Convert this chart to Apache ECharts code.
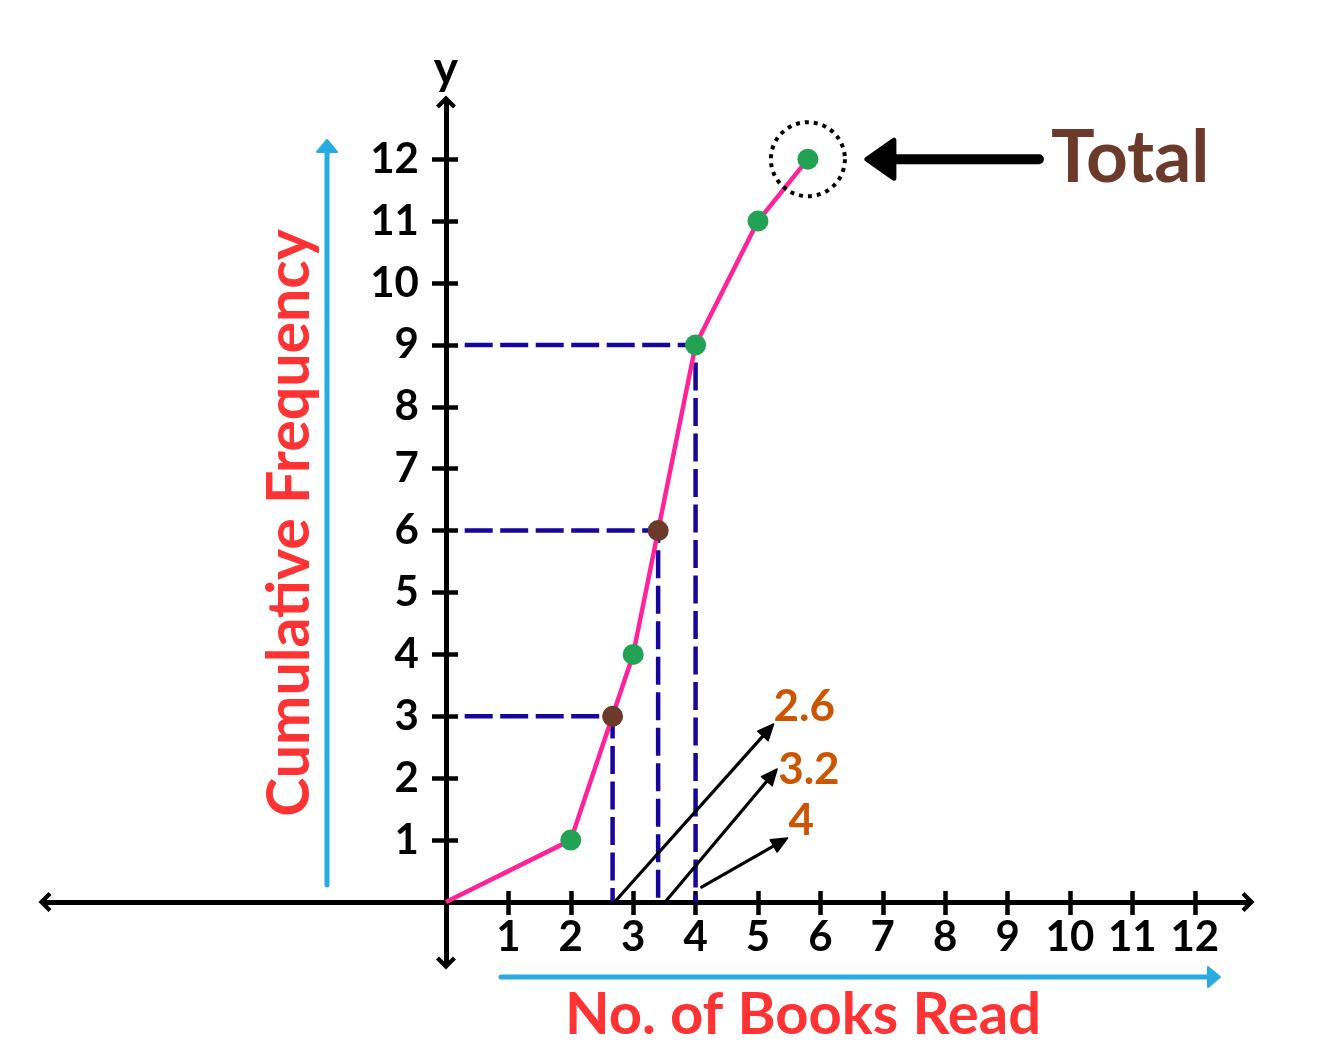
<!DOCTYPE html>
<html><head><meta charset="utf-8">
<script src="https://cdn.jsdelivr.net/npm/echarts@6/dist/echarts.min.js"></script>
<style>html,body{margin:0;padding:0;background:#fff}#c{width:1325px;height:1060px}</style>
</head><body><div id="c"></div>
<script>
// ---- data ----
const booksRead = [0, 2, 3, 4, 5, 5.8];
const cumFreq = [0, 1, 4, 9, 11, 12];
const readCF = [3, 6, 9];            // cumulative frequencies
const readX = [2.67, 3.4, 4];        // where those readings meet the curve
const readLabels = ['2.6', '3.2', '4'];
const xTicks = [1, 2, 3, 4, 5, 6, 7, 8, 9, 10, 11, 12];
const yTicks = [1, 2, 3, 4, 5, 6, 7, 8, 9, 10, 11, 12];
const totalPoint = [5.8, 12];
const xTitle = 'No. of Books Read';
const yTitle = 'Cumulative Frequency';
const totalText = 'Total';

// ---- layout / style ----
const G_LEFT = 45, G_TOP = 102, G_W = 1203, G_H = 861;
const X_MIN = -6.426, X_MAX = 12.853, Y_MIN = -0.985, Y_MAX = 12.924;
const X0 = G_LEFT + (0 - X_MIN) / (X_MAX - X_MIN) * G_W;       // pixel of x = 0
const Y0 = G_TOP + (Y_MAX - 0) / (Y_MAX - Y_MIN) * G_H;        // pixel of y = 0
const FONT = 'Lato, "Open Sans", sans-serif';
const BLACK = '#000000', PINK = '#ff2299', GREEN = '#22a254', BROWN = '#6b3a2a';
const NAVY = '#18059c', ORANGE = '#cc5500', RED = '#ff3333', BLUE = '#29abe2';
const chevron = 'path://M50,0 L100,50 L85,65 L50,30 L15,65 L0,50 Z';

const chart = echarts.init(document.getElementById('c'));

const guideSeries = readCF.map((cf, i) => ({
  type: 'line', silent: true, symbol: 'none', z: 2,
  data: [[0.3, cf], [readX[i], cf], [readX[i], 0]],
  lineStyle: { color: NAVY, width: 4.5, type: [28, 7.5], cap: 'butt' }
}));

const option = {
  animation: false,
  backgroundColor: '#ffffff',
  grid: { left: G_LEFT, top: G_TOP, width: G_W, height: G_H, containLabel: false, outerBoundsMode: 'none' },
  xAxis: [
    { type: 'value', min: X_MIN, max: X_MAX, position: 'bottom', offset: Y0 - (G_TOP + G_H),
      axisLine: { show: true, onZero: false, lineStyle: { color: BLACK, width: 5 },
        symbol: [chevron, chevron], symbolSize: [20, 14] },
      axisTick: { show: true, customValues: xTicks, length: 13, lineStyle: { color: BLACK, width: 4.5 } },
      axisLabel: { show: true, customValues: xTicks, margin: 14, color: BLACK,
        fontFamily: FONT, fontWeight: 'bold', fontSize: 42 },
      splitLine: { show: false } },
    { type: 'value', min: X_MIN, max: X_MAX, position: 'top', offset: G_TOP - Y0,
      axisLine: { show: false, onZero: false },
      axisTick: { show: true, customValues: xTicks, length: 11, lineStyle: { color: BLACK, width: 4.5 } },
      axisLabel: { show: false }, splitLine: { show: false } }
  ],
  yAxis: [
    { type: 'value', min: Y_MIN, max: Y_MAX, position: 'left', offset: G_LEFT - X0,
      name: 'y', nameLocation: 'end', nameGap: 10,
      nameTextStyle: { color: BLACK, fontFamily: FONT, fontWeight: 'bold', fontSize: 46 },
      axisLine: { show: true, onZero: false, lineStyle: { color: BLACK, width: 5 },
        symbol: [chevron, chevron], symbolSize: [20, 14] },
      axisTick: { show: true, customValues: yTicks, length: 14, lineStyle: { color: BLACK, width: 4.5 } },
      axisLabel: { show: true, customValues: yTicks, margin: 27, color: BLACK,
        fontFamily: FONT, fontWeight: 'bold', fontSize: 42 },
      splitLine: { show: false } },
    { type: 'value', min: Y_MIN, max: Y_MAX, position: 'right', offset: X0 - (G_LEFT + G_W),
      axisLine: { show: false, onZero: false },
      axisTick: { show: true, customValues: yTicks, length: 12, lineStyle: { color: BLACK, width: 4.5 } },
      axisLabel: { show: false }, splitLine: { show: false } }
  ],
  series: guideSeries.concat([
    { type: 'line', silent: true, symbol: 'none', z: 3,
      data: booksRead.map((x, i) => [x, cumFreq[i]]),
      lineStyle: { color: PINK, width: 4.5 } },
    { type: 'scatter', silent: true, z: 5, symbolSize: 21,
      data: booksRead.slice(1).map((x, i) => [x, cumFreq[i + 1]]),
      itemStyle: { color: GREEN, opacity: 1 },
      markPoint: { silent: true, symbol: 'circle', symbolSize: 74, label: { show: false },
        itemStyle: { color: 'rgba(0,0,0,0)', borderColor: BLACK, borderWidth: 4, borderType: [4, 5], opacity: 1 },
        data: [{ coord: totalPoint }] } },
    { type: 'scatter', silent: true, z: 6, symbolSize: 21,
      data: readX.slice(0, 2).map((x, i) => [x, readCF[i]]),
      itemStyle: { color: BROWN, opacity: 1 } }
  ])
};
chart.setOption(option);

// ---- decorations positioned from the chart's own scales ----
const px = p => chart.convertToPixel({ gridIndex: 0 }, p);
function headPts(tx, ty, ux, uy, len, w) {
  const bx = tx - ux * len, by = ty - uy * len, nx = -uy, ny = ux;
  return [[tx, ty], [bx + nx * w / 2, by + ny * w / 2], [bx - nx * w / 2, by - ny * w / 2]];
}
function arrow(x1, y1, x2, y2, color, width, len, w) {
  const d = Math.hypot(x2 - x1, y2 - y1), ux = (x2 - x1) / d, uy = (y2 - y1) / d;
  return [
    { type: 'line', silent: true, z: 50, shape: { x1, y1, x2: x2 - ux * len * 0.8, y2: y2 - uy * len * 0.8 },
      style: { stroke: color, lineWidth: width, lineCap: 'round' } },
    { type: 'polygon', silent: true, z: 50, shape: { points: headPts(x2, y2, ux, uy, len, w) },
      style: { fill: color, stroke: color, lineWidth: 1.5, lineJoin: 'round' } }
  ];
}
function txt(text, x, y, size, color, align, rot) {
  return { type: 'text', silent: true, z: 60, x, y, rotation: rot || 0,
    style: { text, x: 0, y: 0, fill: color, font: 'bold ' + size + 'px ' + FONT,
      align: align || 'center', textAlign: align || 'center', verticalAlign: 'middle', textVerticalAlign: 'middle' } };
}

const g = [];
// reading annotation arrows + labels
const startOff = [[2, 0], [7, 0], [6, -15]];
const vec = [[159, -178], [112, -133], [86, -49]];
const lblOff = [[0, -17], [1, 1], [1, -17]];
readX.forEach((x, i) => {
  const p = px([x, 0]);
  const sx = p[0] + startOff[i][0], sy = p[1] + startOff[i][1];
  const tx = sx + vec[i][0], ty = sy + vec[i][1];
  g.push(...arrow(sx, sy, tx, ty, BLACK, 3.2, 16, 14));
  g.push(txt(readLabels[i], tx + lblOff[i][0], ty + lblOff[i][1], 44, ORANGE, 'left'));
});
// Total arrow + text
const tp = px(totalPoint);
g.push({ type: 'line', silent: true, z: 50, shape: { x1: tp[0] + 84, y1: tp[1], x2: tp[0] + 231, y2: tp[1] },
  style: { stroke: BLACK, lineWidth: 10, lineCap: 'round' } });
g.push({ type: 'polygon', silent: true, z: 50,
  shape: { points: [[tp[0] + 59, tp[1]], [tp[0] + 86, tp[1] - 19], [tp[0] + 86, tp[1] + 19]] },
  style: { fill: BLACK, stroke: BLACK, lineWidth: 5, lineJoin: 'round' } });
g.push(txt(totalText, tp[0] + 243, tp[1] - 1, 73, BROWN, 'left'));
// blue direction arrows
g.push({ type: 'line', silent: true, z: 40, shape: { x1: 327, y1: 885, x2: 327, y2: 150 },
  style: { stroke: BLUE, lineWidth: 5, lineCap: 'round' } });
g.push({ type: 'polygon', silent: true, z: 40, shape: { points: [[327, 140], [337, 152], [317, 152]] },
  style: { fill: BLUE, stroke: BLUE, lineWidth: 2, lineJoin: 'round' } });
g.push({ type: 'line', silent: true, z: 40, shape: { x1: 501, y1: 977, x2: 1210, y2: 977 },
  style: { stroke: BLUE, lineWidth: 5, lineCap: 'round' } });
g.push({ type: 'polygon', silent: true, z: 40, shape: { points: [[1220, 977], [1208, 967], [1208, 987]] },
  style: { fill: BLUE, stroke: BLUE, lineWidth: 2, lineJoin: 'round' } });
// titles
g.push(txt(yTitle, 290, 523, 59, RED, 'center', Math.PI / 2));
g.push(txt(xTitle, 803, 1015, 58, RED, 'center'));

chart.setOption({ graphic: { elements: g } });
</script></body></html>
